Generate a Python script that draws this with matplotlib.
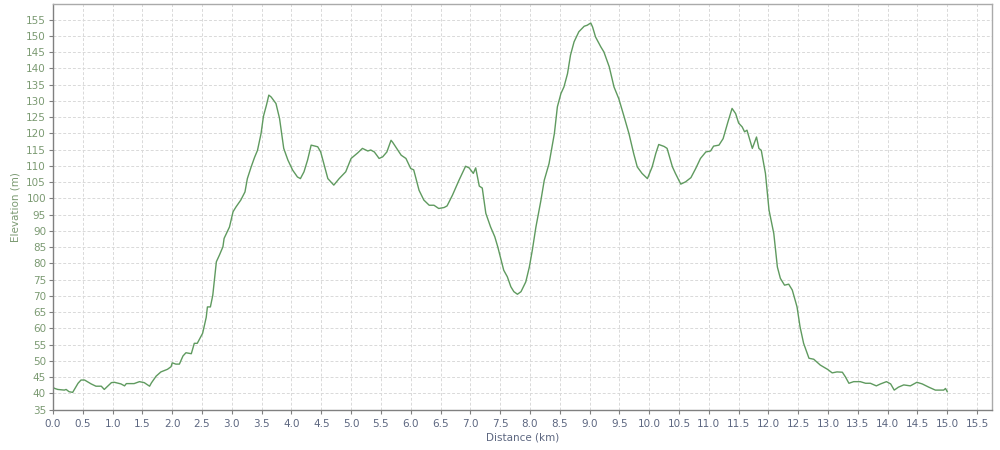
import matplotlib
matplotlib.use("Agg")
import matplotlib.pyplot as plt
import numpy as np

distance_km = [0.0, 0.03, 0.08, 0.19, 0.22, 0.27, 0.33, 0.42, 0.47, 0.53, 0.64, 0.72, 0.81, 0.86,
               0.98, 1.03, 1.14, 1.20, 1.23, 1.36, 1.45, 1.53, 1.62, 1.65, 1.73, 1.81, 1.92, 1.98,
               2.00, 2.06, 2.12, 2.18, 2.23, 2.32, 2.37, 2.42, 2.51, 2.57, 2.59, 2.64, 2.68, 2.74,
               2.79, 2.85, 2.87, 2.96, 3.02, 3.07, 3.15, 3.22, 3.26, 3.32, 3.38, 3.43, 3.49, 3.53,
               3.58, 3.62, 3.66, 3.74, 3.80, 3.87, 3.94, 4.02, 4.10, 4.15, 4.21, 4.27, 4.33, 4.44,
               4.49, 4.61, 4.71, 4.80, 4.91, 5.00, 5.11, 5.19, 5.28, 5.33, 5.39, 5.47, 5.53, 5.60,
               5.67, 5.70, 5.84, 5.92, 6.00, 6.05, 6.14, 6.22, 6.31, 6.39, 6.47, 6.56, 6.61, 6.70,
               6.81, 6.92, 6.98, 7.05, 7.09, 7.15, 7.20, 7.26, 7.34, 7.41, 7.46, 7.56, 7.62, 7.68,
               7.73, 7.79, 7.85, 7.93, 7.99, 8.04, 8.10, 8.18, 8.24, 8.32, 8.41, 8.46, 8.52, 8.57,
               8.63, 8.68, 8.74, 8.82, 8.91, 8.96, 9.02, 9.05, 9.10, 9.19, 9.24, 9.33, 9.41, 9.49,
               9.58, 9.66, 9.74, 9.80, 9.88, 9.97, 10.05, 10.11, 10.16, 10.25, 10.30, 10.39, 10.44,
               10.53, 10.61, 10.70, 10.78, 10.86, 10.95, 11.03, 11.08, 11.17, 11.24, 11.32, 11.39,
               11.45, 11.50, 11.56, 11.60, 11.64, 11.73, 11.80, 11.84, 11.88, 11.95, 12.01, 12.09,
               12.15, 12.20, 12.27, 12.34, 12.40, 12.48, 12.53, 12.59, 12.68, 12.76, 12.87, 12.99,
               13.07, 13.15, 13.24, 13.29, 13.35, 13.43, 13.54, 13.63, 13.71, 13.81, 13.88, 13.98,
               14.05, 14.11, 14.18, 14.27, 14.38, 14.49, 14.58, 14.69, 14.80, 14.94, 14.97, 15.00]

elevation_m = [41.8, 41.5, 41.2, 41.0, 41.2, 40.5, 40.3, 43.1, 44.1, 44.1, 42.9, 42.2, 42.2, 41.2,
               43.3, 43.4, 42.9, 42.3, 43.0, 43.0, 43.6, 43.3, 42.2, 43.2, 45.3, 46.6, 47.4, 48.2,
               49.4, 49.0, 49.0, 51.5, 52.5, 52.2, 55.4, 55.4, 58.5, 63.4, 66.6, 66.6, 70.2, 80.5,
               82.5, 85.1, 87.7, 91.2, 95.9, 97.4, 99.5, 102.0, 106.1, 109.5, 112.6, 114.8, 120.0, 125.3,
               128.7, 131.8, 131.2, 129.2, 124.6, 115.4, 111.8, 108.7, 106.6, 106.1, 108.2, 111.8, 116.4, 115.9,
               114.3, 106.1, 104.1, 106.1, 108.2, 112.3, 114.0, 115.4, 114.6, 114.9, 114.3, 112.3, 112.8, 114.3,
               117.9, 117.2, 113.3, 112.3, 109.2, 108.8, 102.5, 99.5, 97.9, 97.9, 96.9, 97.2, 97.7, 101.0,
               105.6, 109.9, 109.4, 107.7, 109.4, 103.8, 103.2, 95.4, 91.2, 88.2, 85.1, 77.9, 75.9, 72.8,
               71.3, 70.5, 71.3, 74.3, 78.9, 84.1, 91.2, 99.0, 105.6, 110.7, 120.0, 128.2, 132.3, 134.3,
               138.4, 144.1, 148.2, 151.3, 153.0, 153.3, 154.0, 152.8, 149.7, 146.6, 145.1, 140.5, 134.3, 130.7,
               125.1, 120.0, 113.8, 109.7, 107.7, 106.1, 109.7, 113.8, 116.6, 116.0, 115.4, 109.7, 107.7,
               104.4, 105.1, 106.4, 109.2, 112.3, 114.3, 114.6, 116.1, 116.4, 118.4, 123.5, 127.7,
               126.1, 123.2, 122.0, 120.5, 121.0, 115.4, 118.9, 115.4, 114.8, 107.7, 96.4, 89.2,
               78.9, 75.4, 73.3, 73.6, 71.8, 66.6, 60.5, 55.4, 50.8, 50.5, 48.7, 47.4,
               46.3, 46.6, 46.5, 45.1, 43.1, 43.6, 43.6, 43.1, 43.1, 42.3, 42.9, 43.6,
               42.9, 41.0, 41.9, 42.6, 42.3, 43.4, 42.9, 41.9, 41.0, 41.0, 41.5, 40.5]

x_ticks = np.arange(0, 15.51, 0.5)
y_ticks = np.arange(35, 156, 5)

fig = plt.figure(figsize=(10, 4.5), dpi=100)
ax = fig.add_axes([0.053, 0.0898, 0.939, 0.901])

ax.plot(distance_km, elevation_m, color="#5f9a5f", linewidth=1.0)

ax.set_xlim(0, 15.75)
ax.set_ylim(35, 159.8)
ax.set_xticks(x_ticks)
ax.set_xticklabels([f"{v:.1f}" for v in x_ticks])
ax.set_yticks(y_ticks)
ax.set_yticklabels([f"{v:d}" for v in y_ticks])

ax.grid(True, color="#d9d9d9", linestyle=(0, (3, 2)), linewidth=0.7)
ax.set_axisbelow(True)

for side in ["top", "right"]:
    ax.spines[side].set_color("#aaaaaa")
    ax.spines[side].set_linewidth(1.0)
for side in ["left", "bottom"]:
    ax.spines[side].set_color("#808080")
    ax.spines[side].set_linewidth(1.0)

ax.tick_params(axis="y", colors="#808080", labelcolor="#7b9a72", labelsize=7.5,
               length=3, width=0.8, pad=2)
ax.tick_params(axis="x", colors="#808080", labelcolor="#5c6680", labelsize=7.5,
               length=3, width=0.8, pad=4)

ax.set_ylabel("Elevation (m)", color="#7b9a72", fontsize=7.5, labelpad=4)
ax.set_xlabel("Distance (km)", color="#5c6680", fontsize=7.5, labelpad=2)

fig.savefig("out.png", dpi=100, facecolor="white")
